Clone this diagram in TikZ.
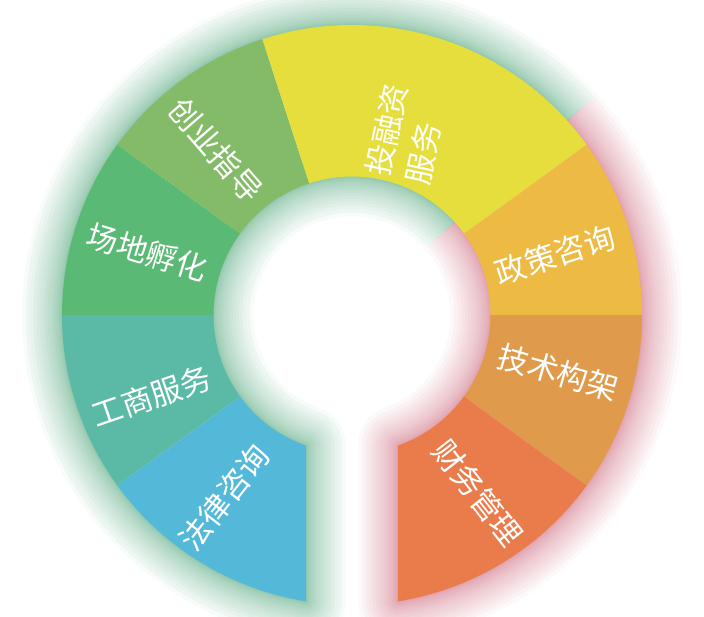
\documentclass[tikz,border=0pt]{standalone}
\usepackage{fontspec}
\newfontfamily\cjk{Noto Sans CJK SC}
\definecolor{segblue}{HTML}{54B9D9}
\definecolor{segteal}{HTML}{5BBAA5}
\definecolor{seggreen}{HTML}{5AB974}
\definecolor{segolive}{HTML}{84BB68}
\definecolor{segyellow}{HTML}{E5DE3D}
\definecolor{seggold}{HTML}{EDBB43}
\definecolor{segorange}{HTML}{E09A4B}
\definecolor{segred}{HTML}{EA7C4C}
\definecolor{glowgreen}{HTML}{3E9C6C}
\definecolor{glowpink}{HTML}{C85A70}
\newcommand{\ringout}{290}
\newcommand{\ringin}{138.5}
% outer arc #1->#2, inner arc #4->#3
\newcommand{\ringpart}[5]{\fill[#5] (#1:\ringout) arc[start angle=#1,end angle=#2,radius=\ringout] -- (#4:\ringin) arc[start angle=#4,end angle=#3,radius=\ringin] -- cycle;}
\newcommand{\ringoutline}{(\redout:\ringout) arc[start angle=\redout,end angle=\blueout,radius=\ringout] -- (\bluein:\ringin) arc[start angle=\bluein,end angle=\redin,radius=\ringin] -- cycle}
\tikzset{
  segtext/.style={text=white, font=\cjk\fontsize{31}{40}\selectfont, inner sep=0pt},
  glowline/.style={line join=round, opacity=0.045}
}
\begin{document}
\begin{tikzpicture}[x=1pt,y=1pt]
\useasboundingbox (-352,-301) rectangle (352,315);
\pgfmathsetmacro{\blueout}{270-asin(46/290)}
\pgfmathsetmacro{\bluein}{270-asin(46/138.5)}
\pgfmathsetmacro{\redout}{-90+asin(46/290)}
\pgfmathsetmacro{\redin}{-90+asin(46/138.5)}
% soft glow
\begin{scope}
\clip (0,0) -- (42:700) arc[start angle=42,end angle=270,radius=700] -- cycle;
\foreach \k in {1,...,20} \draw[glowline, glowgreen, line width={80*(\k/20)^2}] \ringoutline;
\end{scope}
\begin{scope}
\clip (0,0) -- (270:700) arc[start angle=270,end angle=402,radius=700] -- cycle;
\foreach \k in {1,...,20} \draw[glowline, glowpink, line width={80*(\k/20)^2}] \ringoutline;
\end{scope}
% segments
\ringpart{216}{\blueout}{216}{\bluein}{segblue}
\ringpart{180}{216}{180}{216}{segteal}
\ringpart{144}{180}{144}{180}{seggreen}
\ringpart{108}{144}{108}{144}{segolive}
\ringpart{36}{108}{36}{108}{segyellow}
\ringpart{0}{36}{0}{36}{seggold}
\ringpart{-36}{0}{-36}{0}{segorange}
\ringpart{\redout}{-36}{\redin}{-36}{segred}
% labels
\node[segtext, rotate=52] (tLaw) at (235:223) {法律咨询};
\node[segtext, rotate=19] (tBiz) at (202:216) {工商服务};
\node[segtext, rotate=-17] (tSite) at (163:214) {场地孵化};
\node[segtext, rotate=-49] (tGuide) at (129.5:214) {创业指导};
\node[segtext, rotate=78, align=left] (tFund) at (73.2:189) {投融资\\服务};
\node[segtext, rotate=18] (tPolicy) at (16.5:212) {政策咨询};
\node[segtext, rotate=-16] (tTech) at (-15.5:214) {技术构架};
\node[segtext, rotate=-52] (tFin) at (-54.7:218) {财务管理};
\end{tikzpicture}
\end{document}
